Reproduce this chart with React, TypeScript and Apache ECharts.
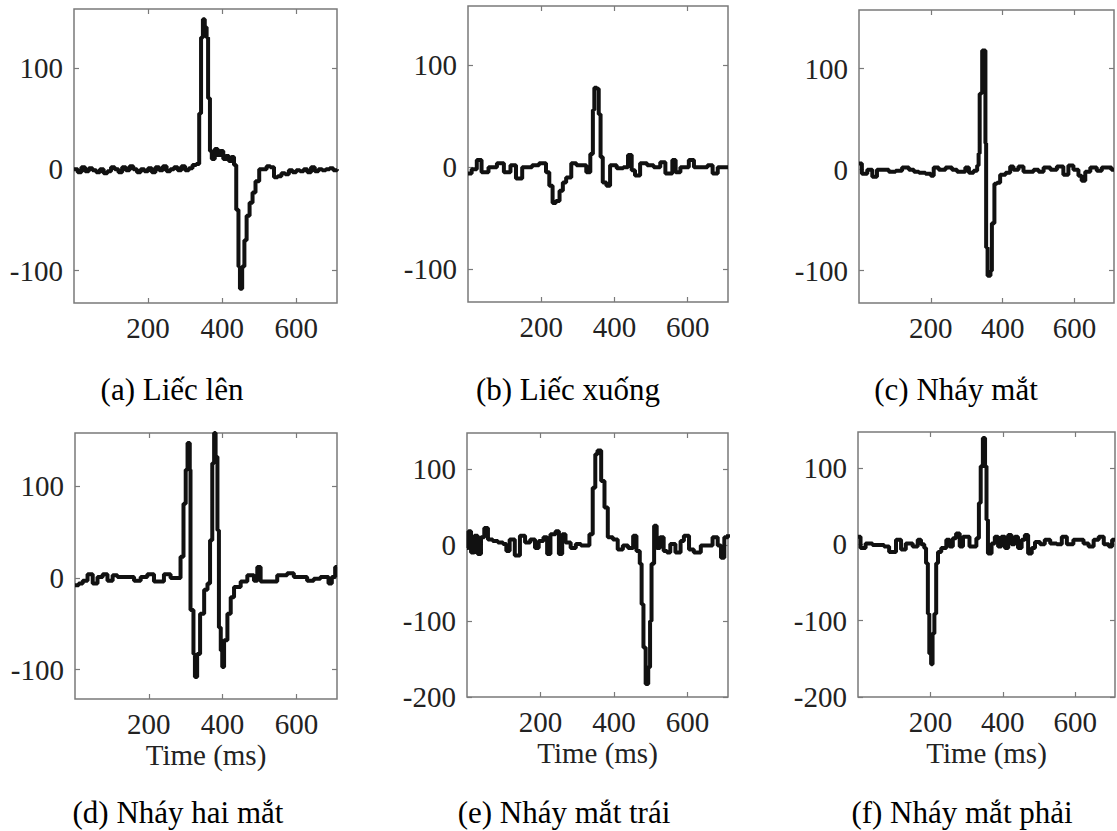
import React, { useEffect, useRef } from "react";
import * as echarts from "echarts";

// ---- Data (time in ms, amplitude) ----
const signalA: number[][] = [
  [0, 0], [10, -3], [20, 2], [30, -2], [40, 1], [50, -1], [60, -3], [70, 0], [80, -4], [90, -2],
  [100, 2], [110, 0], [120, -3], [130, 2], [140, -1], [150, 3], [160, 0], [170, -3], [180, 0], [190, -2],
  [200, 1], [210, -3], [220, 2], [230, -1], [240, 3], [250, -2], [260, 0], [270, 2], [280, -1], [290, 3],
  [300, -1], [310, 1], [320, 4], [330, 5], [338, 55], [343, 130], [348, 148], [353, 140], [358, 130], [362, 70],
  [367, 18], [372, 10], [380, 20], [388, 14], [395, 18], [403, 10], [410, 13], [418, 8], [425, 12], [432, 4],
  [438, -40], [444, -96], [448, -118], [454, -96], [460, -70], [466, -46], [474, -33], [482, -23], [490, -12],
  [500, 0], [510, 0], [520, 3], [530, 2], [540, -8], [550, -7], [560, -4], [570, -5], [580, -1], [590, -3],
  [600, -1], [610, -2], [620, 0], [630, -3], [640, 2], [650, -2], [660, 0], [670, -1], [680, 0], [690, 1],
  [700, -1], [710, 0],
];

const signalB: number[][] = [
  [0, -6], [10, -2], [24, 7], [37, -5], [56, 0], [79, 4], [98, -5], [116, 2], [131, -11], [148, 0],
  [175, 2], [194, 4], [213, -5], [222, -18], [231, -35], [240, -33], [250, -23], [259, -15], [268, -10], [282, 4],
  [296, 2], [310, 2], [323, -5], [334, 13], [341, 56], [345, 78], [352, 77], [357, 52], [362, 10], [368, -15],
  [378, -18], [388, 2], [406, -1], [424, 0], [437, 12], [447, -3], [456, -8], [470, 4], [489, 2], [507, 0],
  [525, 5], [539, -6], [558, 7], [567, -5], [580, 0], [603, 7], [617, 0], [635, 0], [654, 2], [668, -6],
  [682, 0], [710, 0],
];

const signalC: number[][] = [
  [0, 6], [8, -4], [23, 0], [37, -7], [50, 0], [64, 0], [83, -2], [102, -1], [120, 2], [139, 0],
  [153, -2], [167, -3], [185, -4], [200, -6], [208, 2], [222, 0], [241, 2], [259, 0], [273, -2], [287, -2],
  [296, 2], [306, -3], [319, -1], [329, 4], [333, 16], [336, 75], [341, 76], [343, 118], [347, 118], [352, 26],
  [354, -77], [358, -105], [366, -100], [370, -53], [377, -14], [384, -13], [393, -5], [408, -3], [421, 3], [430, 0],
  [444, 3], [458, -2], [472, -2], [486, 0], [500, -2], [514, 2], [533, 0], [551, 3], [569, -5], [583, 4],
  [597, 0], [611, -6], [620, -11], [630, -2], [644, 2], [662, -1], [676, 2], [703, 0], [710, 0],
];

const signalD: number[][] = [
  [0, -8], [10, -6], [21, -3], [34, 4], [48, -6], [61, 1], [75, 4], [88, -3], [102, 3], [115, 1],
  [138, 1], [160, -3], [178, 1], [196, 4], [214, -4], [241, 4], [259, 0], [277, 0], [286, 23], [294, 81],
  [300, 118], [305, 147], [311, 118], [313, -35], [321, -83], [325, -108], [331, -83], [339, -39], [350, -13], [359, -6],
  [366, 41], [372, 125], [377, 158], [381, 132], [386, 52], [390, -54], [395, -79], [399, -97], [404, -68], [413, -39],
  [422, -21], [431, -10], [449, -4], [467, 3], [485, -3], [494, 12], [503, -4], [521, -4], [548, 3], [575, 5],
  [593, 1], [611, 1], [629, -3], [647, -1], [665, 1], [687, -6], [696, 1], [705, 12], [710, 12],
];

const signalE: number[][] = [
  [0, -4], [4, 18], [11, -10], [20, 12], [29, -12], [38, 10], [47, 22], [57, 7], [70, 5], [84, 3],
  [98, 1], [107, -8], [116, 7], [130, -14], [144, 12], [158, 3], [172, 7], [185, -4], [195, 5], [208, 10],
  [218, -12], [227, 14], [241, 18], [250, -12], [259, 14], [268, 3], [282, -4], [296, 1], [310, -1], [323, -1],
  [333, 14], [342, 75], [349, 119], [355, 124], [365, 84], [374, 49], [383, 10], [397, 7], [410, -6], [424, -1],
  [438, -4], [452, 12], [461, -8], [470, -25], [475, -78], [480, -135], [486, -183], [493, -161], [498, -100], [502, -25],
  [509, 25], [516, -4], [525, 10], [535, -8], [544, -10], [553, 1], [567, -10], [581, 5], [590, 12], [604, -6],
  [617, -10], [636, -1], [654, -1], [668, 10], [682, -1], [691, -17], [700, 10], [710, 14],
];

const signalF: number[][] = [
  [0, 10], [7, -5], [21, 1], [40, -1], [58, -1], [72, -3], [86, -10], [105, 6], [119, -7], [132, 1],
  [151, -3], [165, 6], [174, 0], [183, -5], [188, -25], [193, -91], [197, -143], [202, -157], [206, -117], [211, -91],
  [216, -25], [221, -10], [230, -5], [244, 6], [253, -3], [262, 8], [271, 14], [281, -3], [290, 10], [308, -3],
  [327, 8], [334, 54], [339, 102], [345, 139], [351, 102], [355, 32], [359, -12], [369, 1], [378, 10], [387, -3],
  [396, 10], [406, -5], [415, 12], [424, 0], [433, 10], [442, -5], [452, 6], [461, 12], [470, -12], [480, -5],
  [489, 3], [503, 0], [516, 6], [531, 1], [549, 0], [563, 10], [577, 0], [595, 6], [609, 6], [623, 1],
  [637, -3], [651, 6], [665, 10], [679, 0], [693, -3], [702, 6], [710, 6],
];

const signals = [signalA, signalB, signalC, signalD, signalE, signalF];

const captions = [
  "(a) Liếc lên",
  "(b) Liếc xuống",
  "(c) Nháy mắt",
  "(d) Nháy hai mắt",
  "(e) Nháy mắt trái",
  "(f) Nháy mắt phải",
];

const xTicks = [200, 400, 600];
const yTicksNarrow = [-100, 0, 100];
const yTicksWide = [-200, -100, 0, 100];
const xRange = [0, 710];
const yRangeNarrow = [-132, 158];
const yRangeWide = [-200, 147];
const xAxisName = "Time (ms)";

// ---- Layout (pixels) ----
const grids = [
  { left: 74, top: 9, width: 263, height: 294 },
  { left: 468, top: 6, width: 260, height: 296 },
  { left: 859, top: 10, width: 255, height: 293 },
  { left: 75, top: 433, width: 262, height: 266 },
  { left: 467, top: 433, width: 261, height: 264 },
  { left: 858, top: 432, width: 257, height: 265 },
];
const captionPos = [
  [172, 389], [568, 389], [956, 389],
  [178, 812], [564, 812], [962, 812],
];

const FONT = "Liberation Serif";
const FRAME = "#7a7a7a";
const TICK_FONT = 29;

export default function App() {
  const ref = useRef<HTMLDivElement>(null);
  useEffect(() => {
    if (!ref.current) return;
    const chart = echarts.init(ref.current, null, { renderer: "svg" });
    const xAxes: any[] = [];
    const yAxes: any[] = [];
    const series: any[] = [];
    const tick = (vals: number[]) => ({
      show: true, inside: true, length: 5, customValues: vals,
      lineStyle: { color: FRAME, width: 1.2 },
    });
    grids.forEach((g, i) => {
      const wide = i >= 4;
      const yr = wide ? yRangeWide : yRangeNarrow;
      const yt = wide ? yTicksWide : yTicksNarrow;
      const bottomRow = i >= 3;
      xAxes.push({
        type: "value", gridIndex: i, position: "bottom", min: xRange[0], max: xRange[1],
        splitLine: { show: false },
        axisLine: { show: false, onZero: false },
        axisTick: tick(xTicks),
        axisLabel: { show: true, customValues: xTicks, margin: 10, fontFamily: FONT, fontSize: TICK_FONT, color: "#222" },
        name: bottomRow ? xAxisName : "",
        nameLocation: "middle", nameGap: 41,
        nameTextStyle: { fontFamily: FONT, fontSize: TICK_FONT, color: "#222" },
      });
      xAxes.push({
        type: "value", gridIndex: i, position: "top", min: xRange[0], max: xRange[1],
        splitLine: { show: false }, axisLine: { show: false, onZero: false }, axisLabel: { show: false },
        axisTick: tick(xTicks),
      });
      yAxes.push({
        type: "value", gridIndex: i, position: "left", min: yr[0], max: yr[1],
        splitLine: { show: false }, axisLine: { show: false, onZero: false },
        axisTick: tick(yt),
        axisLabel: { show: true, customValues: yt, margin: 11, fontFamily: FONT, fontSize: TICK_FONT, color: "#222" },
      });
      yAxes.push({
        type: "value", gridIndex: i, position: "right", min: yr[0], max: yr[1],
        splitLine: { show: false }, axisLine: { show: false, onZero: false }, axisLabel: { show: false },
        axisTick: tick(yt),
      });
      series.push({
        type: "line", xAxisIndex: 2 * i, yAxisIndex: 2 * i, data: signals[i],
        step: "end", showSymbol: false, symbol: "none", clip: true,
        lineStyle: { color: "#111", width: 4 },
      });
    });
    chart.setOption({
      animation: false,
      backgroundColor: "#fff",
      grid: grids.map((g) => ({ ...g, show: true, borderColor: FRAME, borderWidth: 1.5, backgroundColor: "transparent" })),
      xAxis: xAxes,
      yAxis: yAxes,
      series,
      graphic: captions.map((c, i) => ({
        type: "text",
        x: captionPos[i][0],
        y: captionPos[i][1],
        style: { text: c, textAlign: "center", textVerticalAlign: "middle", fontFamily: FONT, fontSize: 31, fill: "#000" },
      })),
    });
    return () => chart.dispose();
  }, []);
  return (
    <div
      ref={ref}
      style={{ position: "absolute", left: 0, top: 0, width: 1117, height: 831, background: "#fff" }}
    />
  );
}
